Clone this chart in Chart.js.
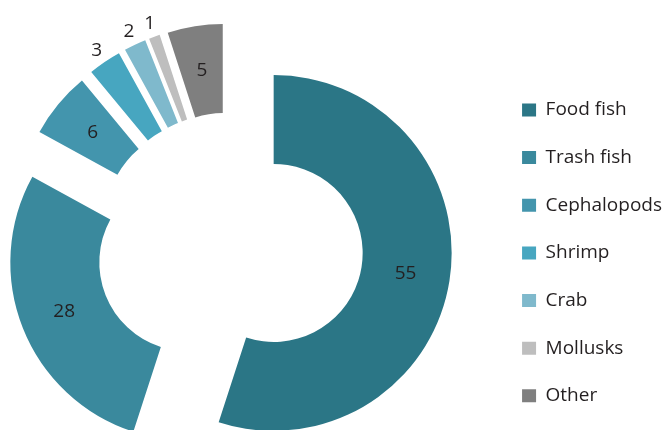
<!DOCTYPE html>
<html lang="en">
<head>
    <meta charset="UTF-8">
    <title>Catch composition</title>
    <script src="https://cdn.jsdelivr.net/npm/chart.js"></script>
    <style>
        body { margin: 0; background: #fff; overflow: hidden; }
        /* the ring sits left of the legend's half-way point, so the canvas starts a bit off-page */
        #chart { display: block; margin-left: -34px; }
    </style>
</head>
<body>
    <canvas id="chart" width="706" height="434"></canvas>

    <script>
        // Chart data
        const categories = ["Food fish", "Trash fish", "Cephalopods", "Shrimp", "Crab", "Mollusks", "Other"];
        const shares = [55, 28, 6, 3, 2, 1, 5];
        const colours = ["#2b7686", "#3a899d", "#4395ad", "#47a6c0", "#7fb9cc", "#bebebe", "#7f7f7f"];

        const textColour = "#231f20";
        const fontFamily = "'Open Sans', 'Noto Sans', sans-serif";

        // Pull every slice away from the centre by the same distance
        const explode = {
            id: "explode",
            beforeDatasetsDraw(chart, args, opts) {
                const area = chart.chartArea;
                const cx = (area.left + area.right) / 2;
                const cy = (area.top + area.bottom) / 2;
                chart.getDatasetMeta(0).data.forEach(arc => {
                    const mid = (arc.startAngle + arc.endAngle) / 2;
                    arc.x = cx + Math.cos(mid) * opts.distance;
                    arc.y = cy + Math.sin(mid) * opts.distance;
                });
            }
        };

        // Value labels: inside the ring, small slices just outside it
        const sliceLabels = {
            id: "sliceLabels",
            afterDatasetsDraw(chart, args, opts) {
                const ctx = chart.ctx;
                const values = chart.data.datasets[0].data;
                ctx.save();
                ctx.font = opts.size + "px " + fontFamily;
                ctx.fillStyle = textColour;
                ctx.textAlign = "center";
                ctx.textBaseline = "middle";
                chart.getDatasetMeta(0).data.forEach((arc, i) => {
                    const mid = (arc.startAngle + arc.endAngle) / 2;
                    const r = values[i] <= opts.outsideBelow
                        ? arc.outerRadius + opts.outsideGap
                        : (arc.innerRadius + arc.outerRadius) / 2;
                    ctx.fillText(String(values[i]), arc.x + Math.cos(mid) * r, arc.y + Math.sin(mid) * r);
                });
                ctx.restore();
            }
        };

        const ctx = document.getElementById("chart").getContext("2d");
        new Chart(ctx, {
            type: "doughnut",
            data: {
                labels: categories,
                datasets: [{
                    data: shares,
                    backgroundColor: colours,
                    borderWidth: 0,
                    radius: 178,
                    cutout: "50%"
                }]
            },
            options: {
                responsive: false,
                animation: false,
                events: [],
                layout: {
                    padding: { top: 58, bottom: 0, left: 0, right: 0 }
                },
                plugins: {
                    explode: { distance: 44.5 },
                    sliceLabels: { size: 19, outsideBelow: 3, outsideGap: 14 },
                    tooltip: { enabled: false },
                    legend: {
                        position: "right",
                        align: "end",
                        labels: {
                            boxWidth: 14,
                            boxHeight: 13,
                            padding: 28.65,
                            color: textColour,
                            font: { family: fontFamily, size: 19 }
                        }
                    }
                }
            },
            plugins: [explode, sliceLabels]
        });
    </script>
</body>
</html>
